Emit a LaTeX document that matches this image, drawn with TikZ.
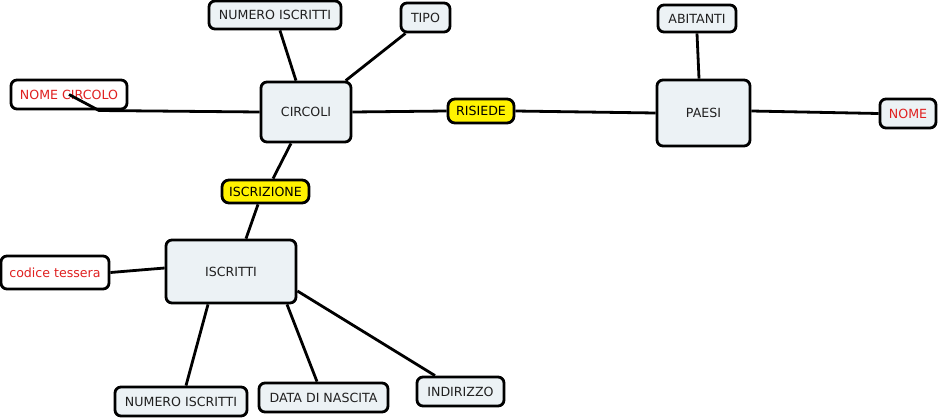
\documentclass[tikz,border=0pt]{standalone}
\usepackage{fontspec}
\setmainfont{DejaVu Sans}
\definecolor{boxfill}{HTML}{ECF2F5}
\definecolor{redtxt}{HTML}{E02020}
\definecolor{linktxt}{HTML}{202020}
\tikzset{
  box/.style={draw=black, line width=2.8pt, rounded corners=6pt, fill=boxfill,
    text=linktxt, font=\fontsize{12.6}{14}\selectfont, inner sep=0pt, align=center},
  attr/.style={box},
  keyattr/.style={box, fill=white, text=redtxt},
  keyattrl/.style={box, text=redtxt},
  rel/.style={box, fill=yellow, text=black, rounded corners=7pt},
  conn/.style={line width=2.8pt, black},
}
\begin{document}
\begin{tikzpicture}[x=1pt,y=-1pt]
\useasboundingbox (0,0) rectangle (939,418);
% entities
\node[box, minimum width=90pt, minimum height=60pt] (circoli) at (306,112) {CIRCOLI};
\node[box, minimum width=93pt, minimum height=66pt] (paesi) at (703.5,113) {PAESI};
\node[box, minimum width=130pt, minimum height=63pt] (iscritti) at (231,271.5) {ISCRITTI};
% relations
\node[rel, minimum width=66pt, minimum height=24pt] (risiede) at (481,111) {RISIEDE};
\node[rel, minimum width=87pt, minimum height=23pt] (iscrizione) at (265.5,191.5) {ISCRIZIONE};
% attributes
\node[attr, minimum width=132pt, minimum height=28pt] (numtop) at (275,15) {NUMERO ISCRITTI};
\node[attr, minimum width=49pt, minimum height=29pt] (tipo) at (425.5,17.5) {TIPO};
\node[keyattr, minimum width=116pt, minimum height=29pt] (nomecirc) at (69,94.5) {NOME CIRCOLO};
\node[attr, minimum width=78pt, minimum height=27pt] (abitanti) at (697,18.5) {ABITANTI};
\node[keyattrl, minimum width=56pt, minimum height=29pt] (nome) at (908,113.5) {NOME};
\node[keyattr, minimum width=108pt, minimum height=33pt] (codice) at (55,272.5) {codice tessera};
\node[attr, minimum width=132pt, minimum height=29pt] (numbot) at (181,401.5) {NUMERO ISCRITTI};
\node[attr, minimum width=129pt, minimum height=29pt] (data) at (323.5,397.5) {DATA DI NASCITA};
\node[attr, minimum width=87pt, minimum height=29pt] (indirizzo) at (460.5,391.5) {INDIRIZZO};
% connectors
\draw[conn] (numtop) -- (circoli);
\draw[conn] (tipo) -- (circoli);
\draw[conn] (nomecirc.center) -- ++(30,16) coordinate (nck) -- (circoli.west);
\draw[conn] (circoli.east) -- (risiede.west);
\draw[conn] (risiede.east) -- (paesi.west);
\draw[conn] (abitanti.south) -- ([xshift=-4.5pt]paesi.north);
\draw[conn] ([yshift=2pt]paesi.east) -- (nome.west);
\draw[conn] ([xshift=-15pt]circoli.south) -- ([xshift=7.5pt]iscrizione.north);
\draw[conn] ([xshift=-7.5pt]iscrizione.south) -- ([xshift=15pt]iscritti.north);
\draw[conn] (codice.east) -- ([yshift=3.5pt]iscritti.west);
\draw[conn] ([xshift=-23pt]iscritti.south) -- ([xshift=5pt]numbot.north);
\draw[conn] ([xshift=56pt]iscritti.south) -- ([xshift=-6.5pt]data.north);
\draw[conn] ([yshift=-19.5pt]iscritti.east) -- ([xshift=-25.5pt]indirizzo.north);
\end{tikzpicture}
\end{document}
